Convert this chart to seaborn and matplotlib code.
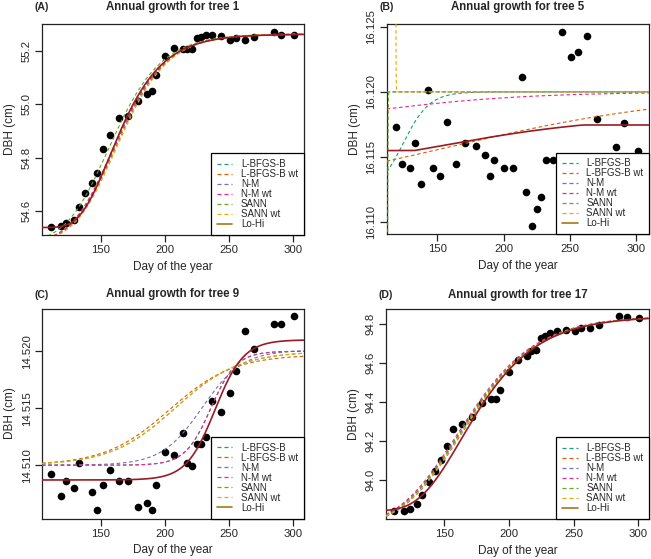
import numpy as np
import pandas as pd
import matplotlib
matplotlib.use("Agg")
import matplotlib.pyplot as plt
from matplotlib.lines import Line2D
import seaborn as sns

# ---------------- data ----------------
days = [111, 119, 123, 129, 133, 138, 143, 147, 152, 157, 164, 171, 179, 186, 190,
        193, 200, 207, 214, 217, 221, 225, 228, 232, 237, 244, 251, 256, 263, 270,
        285, 291, 301]
days_tree5 = [119, 123, 129, 133, 138, 143, 147, 152, 157, 164, 171, 179, 186, 190,
              193, 200, 207, 214, 217, 221, 225, 228, 232, 237, 244, 251, 256, 263, 270,
              285, 291, 301]
days_tree9 = [111, 119, 123, 129, 133, 143, 147, 152, 157, 164, 171, 179, 186, 190,
              193, 200, 207, 214, 217, 221, 225, 228, 232, 237, 244, 251, 256, 263, 270,
              285, 291, 301]

dbh_tree1 = [54.543, 54.546, 54.558, 54.567, 54.617, 54.667, 54.706, 54.744, 54.833,
             54.887, 54.948, 54.958, 55.014, 55.037, 55.049, 55.108, 55.181, 55.209,
             55.205, 55.207, 55.208, 55.246, 55.250, 55.260, 55.259, 55.256, 55.240,
             55.246, 55.240, 55.253, 55.271, 55.258, 55.260]
dbh_tree5 = [16.11733, 16.11446, 16.11416, 16.11605, 16.11290, 16.12018, 16.11416,
             16.11351, 16.11767, 16.11446, 16.11605, 16.11580, 16.11513, 16.11351,
             16.11477, 16.11416, 16.11416, 16.12115, 16.11226, 16.10969, 16.11098,
             16.11193, 16.11477, 16.11477, 16.12464, 16.12272, 16.12305, 16.12431,
             16.11795, 16.11574, 16.11764, 16.11541]
dbh_tree9 = [14.50924, 14.50731, 14.50860, 14.50796, 14.51021, 14.50766, 14.50606,
             14.50828, 14.50956, 14.50860, 14.50860, 14.50635, 14.50667, 14.50606,
             14.50828, 14.51117, 14.51085, 14.51278, 14.51021, 14.50989, 14.51182,
             14.51182, 14.51246, 14.51567, 14.51471, 14.51632, 14.51825, 14.52178,
             14.52018, 14.52243, 14.52243, 14.52307]
dbh_tree17 = [93.843, 93.843, 93.853, 93.879, 93.923, 93.990, 94.046, 94.103, 94.176,
              94.263, 94.285, 94.325, 94.397, 94.414, 94.414, 94.462, 94.554, 94.615,
              94.638, 94.660, 94.668, 94.728, 94.737, 94.756, 94.762, 94.769, 94.766,
              94.781, 94.781, 94.793, 94.839, 94.838, 94.831]

methods = ["L-BFGS-B", "L-BFGS-B wt", "N-M", "N-M wt", "SANN", "SANN wt", "Lo-Hi"]
method_colors = ["#1B9E77", "#D95F02", "#7570B3", "#E7298A", "#66A61E", "#E6AB02", "#A6761D"]
lohi_line_color = "#9B1B24"

# fitted growth curves: (lower asymptote, amplitude, midpoint day, scale, shape nu)
fit_tree1 = {
    "L-BFGS-B":    (54.48, 0.782, 159.5, 21.6, 0.5),
    "L-BFGS-B wt": (54.48, 0.782, 160.5, 21.6, 0.5),
    "N-M":         (54.48, 0.782, 159.5, 21.6, 0.5),
    "N-M wt":      (54.48, 0.782, 159.0, 21.6, 0.5),
    "SANN":        (54.48, 0.782, 155.5, 22.0, 0.5),
    "SANN wt":     (54.48, 0.784, 161.5, 21.6, 0.5),
    "Lo-Hi":       (54.540, 0.722, 157.0, 23.0, 0.0),
}
fit_tree5 = {
    "L-BFGS-B":    (16.1120, 0.0080, 124.0, 10.0, 1.0),
    "L-BFGS-B wt": (16.11153, 0.0085, 160.0, 90.0, 1.0),
    "N-M":         (16.1200, 0.0000, 150.0, 10.0, 1.0),
    "N-M wt":      (16.1170, 0.0030, 96.9, 60.0, 1.0),
    "SANN":        (16.1000, 0.0200, 112.6, 0.15, 1.0),
    "SANN wt":     (16.1350, -0.0150, 118.7, 0.10, 1.0),
    "Lo-Hi":       (16.1134, 0.0048, 150.0, 65.0, 1.0),
}
lohi_bounds_tree5 = (16.11548, 16.11745)
fit_tree9 = {
    "L-BFGS-B":    (14.5100, 0.0100, 236.0, 10.0, 1.0),
    "L-BFGS-B wt": (14.5100, 0.0097, 203.5, 25.0, 1.0),
    "N-M":         (14.5100, 0.0101, 229.2, 15.8, 1.0),
    "N-M wt":      (14.5100, 0.0100, 236.0, 10.0, 1.0),
    "SANN":        (14.5100, 0.0100, 208.0, 25.0, 1.0),
    "SANN wt":     (14.5100, 0.0100, 208.0, 25.0, 1.0),
    "Lo-Hi":       (14.5087, 0.0123, 239.2, 11.2, 1.0),
}
fit_tree17 = {
    "L-BFGS-B":    (93.75, 1.09, 161.0, 31.6, 0.5),
    "L-BFGS-B wt": (93.75, 1.09, 162.0, 31.6, 0.5),
    "N-M":         (93.75, 1.09, 163.0, 31.6, 0.5),
    "N-M wt":      (93.75, 1.09, 160.0, 31.6, 0.5),
    "SANN":        (93.75, 1.09, 161.5, 31.6, 0.5),
    "SANN wt":     (93.75, 1.09, 162.5, 31.6, 0.5),
    "Lo-Hi":       (93.842, 0.998, 163.0, 32.6, 0.0),
}

panel_letters = ["(A)", "(B)", "(C)", "(D)"]
panel_titles = ["Annual growth for tree 1", "Annual growth for tree 5",
                "Annual growth for tree 9", "Annual growth for tree 17"]
x_ticks = [150, 200, 250, 300]
y_ticks_tree1 = [54.6, 54.8, 55.0, 55.2]
y_ticks_tree5 = [16.110, 16.115, 16.120, 16.125]
y_ticks_tree9 = [14.510, 14.515, 14.520]
y_ticks_tree17 = [94.0, 94.2, 94.4, 94.6, 94.8]


def growth_curve(x, L, R, m, s, nu):
    u = (x - m) / s
    if nu == 0:
        return L + R * np.exp(-np.exp(-u))
    return L + R * (1.0 + nu * np.exp(-u)) ** (-1.0 / nu)


# ---------------- drawing ----------------
sns.set_style("ticks")
plt.rcParams["font.family"] = ["Liberation Sans", "DejaVu Sans"]

fig = plt.figure(figsize=(6.51, 5.59), dpi=100)

W, H = 651.0, 559.0
def box(l, t, r, b):
    return [l / W, 1 - b / H, (r - l) / W, (b - t) / H]

panels = [
    dict(rect=box(42, 24, 304, 235), xlim=(104.2, 308.7), ylim=(54.512, 55.300),
         d=days, y=dbh_tree1, fit=fit_tree1, yt=y_ticks_tree1, fmt="{:.1f}",
         clip=None, title_gap=17),
    dict(rect=box(386.7, 24, 649.3, 234.3), xlim=(111.8, 309.8), ylim=(16.10903, 16.12523),
         d=days_tree5, y=dbh_tree5, fit=fit_tree5, yt=y_ticks_tree5, fmt="{:.3f}",
         clip=lohi_bounds_tree5, title_gap=17),
    dict(rect=box(42, 308.5, 304, 518.5), xlim=(104.2, 308.7), ylim=(14.50532, 14.52375),
         d=days_tree9, y=dbh_tree9, fit=fit_tree9, yt=y_ticks_tree9, fmt="{:.3f}",
         clip=None, title_gap=14),
    dict(rect=box(386, 309, 649.3, 519), xlim=(104.8, 308.6), ylim=(93.80, 94.877),
         d=days, y=dbh_tree17, fit=fit_tree17, yt=y_ticks_tree17, fmt="{:.1f}",
         clip=None, title_gap=14),
]

dash = (0, (3.2, 2.4))
font_sz = 8.2

for i, p in enumerate(panels):
    ax = fig.add_axes(p["rect"])
    xs = np.linspace(p["xlim"][0], p["xlim"][1], 4000)

    sns.scatterplot(x=p["d"], y=p["y"], ax=ax, color="black", s=30,
                    linewidth=0, zorder=2, legend=False)

    for meth, col in zip(methods, method_colors):
        ys = growth_curve(xs, *p["fit"][meth])
        if meth == "Lo-Hi":
            if p["clip"] is not None:
                ys = np.clip(ys, p["clip"][0], p["clip"][1])
            sns.lineplot(x=xs, y=ys, ax=ax, color=lohi_line_color, linewidth=1.2,
                         estimator=None, sort=False, legend=False, zorder=4)
        else:
            sns.lineplot(x=xs, y=ys, ax=ax, color=col, linewidth=0.8, linestyle=dash,
                         estimator=None, sort=False, legend=False, zorder=3)

    ax.set_xlim(*p["xlim"])
    ax.set_ylim(*p["ylim"])
    ax.set_xticks(x_ticks)
    ax.set_xticklabels([str(t) for t in x_ticks])
    ax.set_yticks(p["yt"])
    ax.set_yticklabels([p["fmt"].format(t) for t in p["yt"]], rotation=90,
                       va="center", ha="right")
    ax.tick_params(direction="out", length=4.8, width=0.9, labelsize=font_sz,
                   pad=2.5, color="#222222")
    for sp in ax.spines.values():
        sp.set_visible(True)
        sp.set_linewidth(0.9)
        sp.set_color("#222222")

    ax.set_xlabel("Day of the year", fontsize=font_sz + 0.3, va="center")
    ax.set_ylabel("DBH (cm)", fontsize=font_sz + 0.3, va="center")
    axw = p["rect"][2] * W
    axh = p["rect"][3] * H
    ax.xaxis.set_label_coords(0.5, -32.0 / axh)
    ax.yaxis.set_label_coords(-32.0 / axw, 0.5)

    ty = 1 + p["title_gap"] / axh
    ax.text(0.5, ty, panel_titles[i], transform=ax.transAxes, ha="center",
            va="center", fontsize=8.3, fontweight="bold")
    ax.text(0.0, ty, panel_letters[i], transform=ax.transAxes, ha="center",
            va="center", fontsize=7.6, fontweight="bold")

    handles = []
    for meth, col in zip(methods, method_colors):
        if meth == "Lo-Hi":
            handles.append(Line2D([0], [0], color=col, linewidth=1.2))
        else:
            handles.append(Line2D([0], [0], color=col, linewidth=0.9, linestyle=dash))
    leg = ax.legend(handles, methods, loc="lower right", bbox_to_anchor=(1, 0),
                    borderaxespad=0, fontsize=7, frameon=True, fancybox=False,
                    edgecolor="black", framealpha=1, handlelength=1.6,
                    handletextpad=0.9, labelspacing=0.0, borderpad=0.6)
    leg.get_frame().set_linewidth(0.9)
    leg.set_zorder(10)

fig.savefig("out.png", dpi=100)
